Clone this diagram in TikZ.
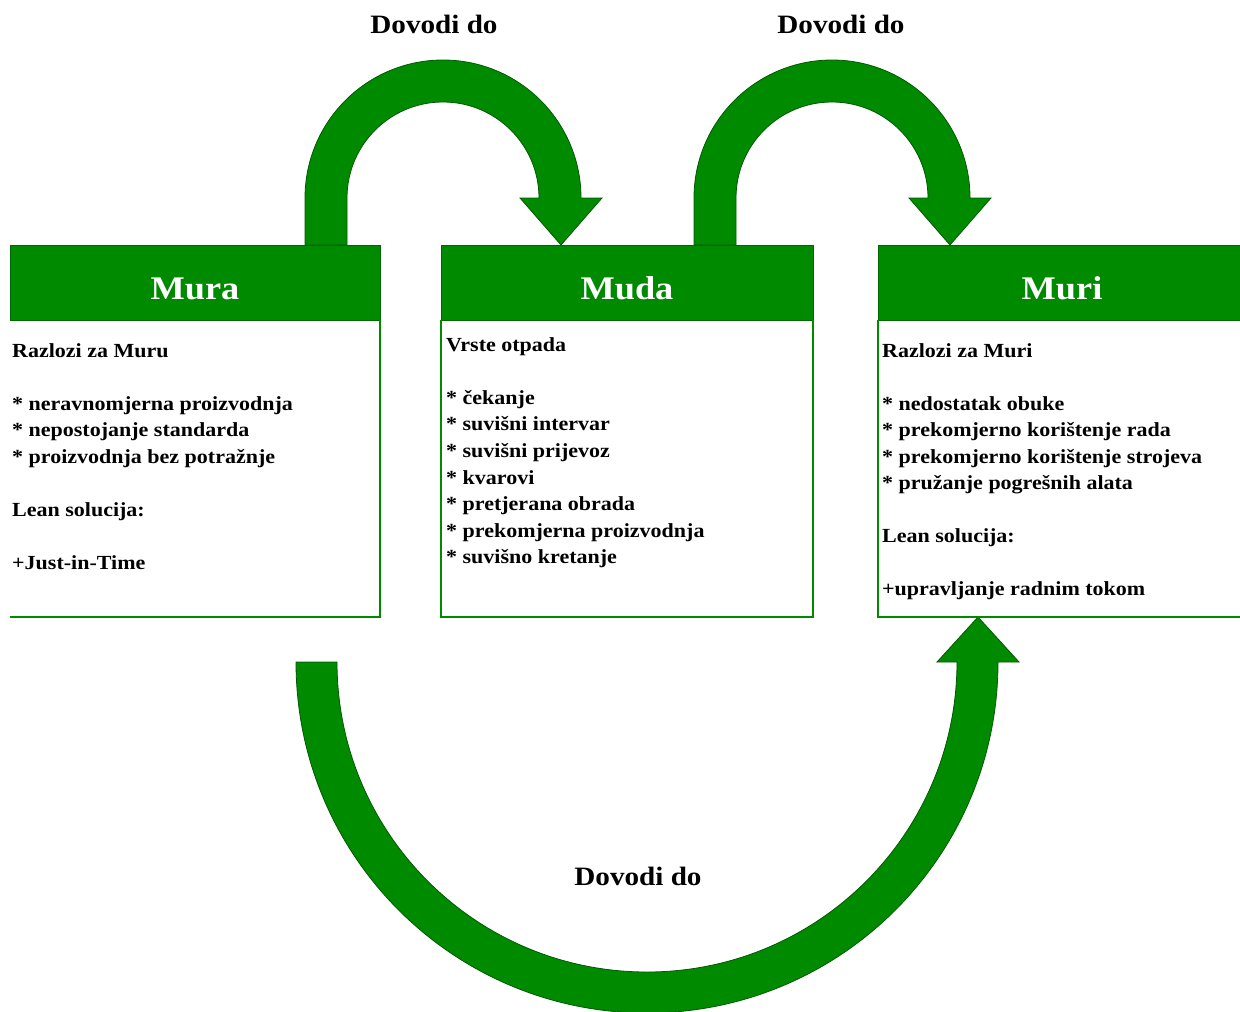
\documentclass[tikz,border=0pt]{standalone}
\usepackage{fontspec}
\setmainfont{Liberation Serif}[FakeStretch=1.1]
\definecolor{gfill}{HTML}{008A00}
\definecolor{gline}{HTML}{005A00}
\begin{document}
\begin{tikzpicture}[x=1pt,y=-1pt,
  blockarrow/.style={fill=gfill, draw=gline, line width=0.8pt, line join=miter},
  hdr/.style={fill=gfill, draw=gline!70!gfill, line width=1pt, inner sep=0pt},
  boxline/.style={draw=gfill, line width=1.4pt},
  title/.style={text=white, font=\fontsize{33}{33}\selectfont\bfseries, anchor=base, inner sep=0pt},
  body/.style={font=\fontsize{20}{24}\selectfont\bfseries, anchor=base west, inner sep=0pt},
  lbl/.style={font=\fontsize{26.5}{30}\selectfont\bfseries, anchor=base, inner sep=0pt}]
\useasboundingbox (0,0) rectangle (1240,1012);

% block arrows
\path[blockarrow] (305,245) -- (305,198) arc[start angle=180, end angle=360, radius=138]
  -- (602,198) -- (561,245) -- (520,198) -- (539,198)
  arc[start angle=360, end angle=180, radius=96] -- (347,245) -- cycle;
\path[blockarrow] (694,245) -- (694,198) arc[start angle=180, end angle=360, radius=138]
  -- (991,198) -- (950,245) -- (909,198) -- (928,198)
  arc[start angle=360, end angle=180, radius=96] -- (736,245) -- cycle;
\path[blockarrow] (296,662) arc[start angle=180, end angle=0, radius=351]
  -- (1019,662) -- (978,617) -- (937,662) -- (957,662)
  arc[start angle=0, end angle=180, radius=310] -- cycle;

% boxes
\node[hdr, minimum width=370pt, minimum height=75pt] (muraH) at (195,282.5) {};
\node[hdr, minimum width=372pt, minimum height=75pt] (mudaH) at (627,282.5) {};
\node[hdr, minimum width=362pt, minimum height=75pt] (muriH) at (1059,282.5) {};
\draw[boxline] (380,320) -- (380,617) -- (10,617);
\draw[boxline] (441,320) -- (441,617) -- (813,617) -- (813,320);
\draw[boxline] (1240,617) -- (878,617) -- (878,320);

\node[title] (muraT) at (195,299) {Mura};
\node[title] (mudaT) at (627,299) {Muda};
\node[title] (muriT) at (1062,299) {Muri};

% texts
\foreach \i/\t in {0/Razlozi za Muru, 2/* neravnomjerna proizvodnja, 3/* nepostojanje standarda,
  4/* proizvodnja bez potražnje, 6/Lean solucija:, 8/+Just-in-Time}
  \node[body] (mura\i) at (12,{357+26.6*\i}) {\t};
\foreach \i/\t in {0/Vrste otpada, 2/* čekanje, 3/* suvišni intervar, 4/* suvišni prijevoz,
  5/* kvarovi, 6/* pretjerana obrada, 7/* prekomjerna proizvodnja, 8/* suvišno kretanje}
  \node[body] (muda\i) at (446,{351+26.6*\i}) {\t};
\foreach \i/\t in {0/Razlozi za Muri, 2/* nedostatak obuke, 3/* prekomjerno korištenje rada,
  4/* prekomjerno korištenje strojeva, 5/* pružanje pogrešnih alata, 7/Lean solucija:,
  9/+upravljanje radnim tokom}
  \node[body] (muri\i) at (882,{357+26.5*\i}) {\t};

% labels
\node[lbl] (l1) at (434,33) {Dovodi do};
\node[lbl] (l2) at (841,33) {Dovodi do};
\node[lbl] (l3) at (638,885) {Dovodi do};
\end{tikzpicture}
\end{document}
